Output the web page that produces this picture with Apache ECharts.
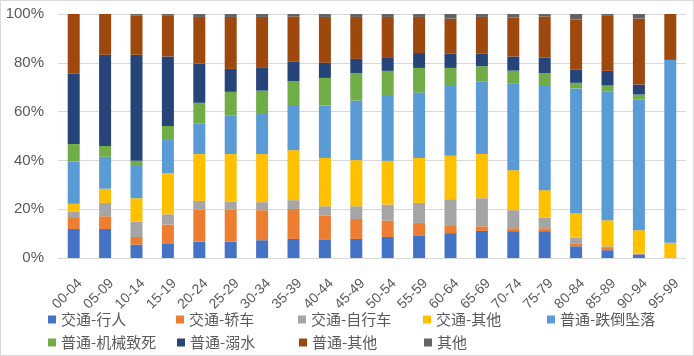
<!DOCTYPE html>
<html><head><meta charset="utf-8">
<script src="https://cdn.jsdelivr.net/npm/echarts@6/dist/echarts.min.js"></script>
<style>html,body{margin:0;padding:0;background:#fff}#c{width:692px;height:354px;border:1px solid #D9D9D9}</style>
</head><body><div id="c"></div>
<script>
const categories = ['00-04','05-09','10-14','15-19','20-24','25-29','30-34','35-39','40-44','45-49','50-54','55-59','60-64','65-69','70-74','75-79','80-84','85-89','90-94','95-99'];
const yTicks = ['0%','20%','40%','60%','80%','100%'];
const names = ['交通-行人','交通-轿车','交通-自行车','交通-其他','普通-跌倒坠落','普通-机械致死','普通-溺水','普通-其他','其他'];
const colors = ['#4472C4','#ED7D31','#A5A5A5','#FFC000','#5B9BD5','#70AD47','#264478','#9E480E','#636363'];
const pedestrian = [11.9,11.9,5.5,6.0,6.7,6.7,7.3,7.8,7.4,7.8,8.6,9.3,10.2,11.1,11.0,11.0,4.8,3.2,1.5,0];
const car        = [4.5,5.2,3.1,7.7,13.2,13.2,12.3,12.3,9.9,8.2,6.7,5.1,2.9,1.9,1.2,1.2,1.0,0.9,0.1,0];
const bicycle    = [2.5,5.5,6.3,4.2,3.5,3.3,3.3,3.6,3.9,5.2,6.6,8.2,11.0,11.5,7.4,4.4,2.6,0.7,0.2,0];
const trafficOther=[3.3,5.8,9.6,16.8,19.2,19.4,19.7,20.5,19.8,18.9,18.0,18.4,17.8,18.1,16.4,11.2,9.8,10.7,9.6,6.2];
const fall       = [17.3,13.1,13.2,13.7,12.6,15.9,16.4,18.1,21.5,24.4,26.5,26.8,28.6,29.7,35.4,42.7,51.3,52.7,53.7,75.0];
const machine    = [7.2,4.4,2.2,5.7,8.4,9.6,9.6,10.2,11.3,11.3,10.3,10.1,7.4,6.3,5.4,5.3,2.3,2.5,1.9,0];
const drowning   = [28.8,37.4,43.4,28.5,16.1,9.4,9.3,7.9,6.2,5.8,5.6,6.1,5.8,5.1,5.8,6.4,5.5,6.0,4.1,0];
const generalOther=[24.5,16.7,16.0,16.9,19.1,21.3,20.9,18.6,18.8,17.2,16.5,14.8,14.4,15.1,16.0,16.8,20.4,22.8,27.0,18.8];
const other      = [0,0,0.7,0.5,1.2,1.2,1.2,1.0,1.2,1.2,1.2,1.2,1.9,1.2,1.4,1.0,2.3,0.5,1.9,0];
const seriesData = [pedestrian,car,bicycle,trafficOther,fall,machine,drowning,generalOther,other];

const chart = echarts.init(document.getElementById('c'));
const latin = '"Liberation Sans", Arial, sans-serif';
const cjk = '"Noto Sans CJK SC", "Liberation Sans", sans-serif';
const legendLeft = [47, 175, 297, 422, 546, 47, 176, 298, 423];
const legends = names.map((n, i) => ({
  data: [n], left: legendLeft[i], top: i < 5 ? 311 : 334, padding: 0,
  itemWidth: 8, itemHeight: 8, icon: 'rect',
  textStyle: {color: '#595959', fontSize: 15, fontFamily: cjk}
}));
chart.setOption({
  animation: false,
  grid: {left: 57, right: 7, top: 13, bottom: 97},
  xAxis: {
    type: 'category', data: categories,
    axisLine: {lineStyle: {color: '#D9D9D9'}},
    axisTick: {show: false},
    axisLabel: {rotate: 45, interval: 0, color: '#595959', fontSize: 14, fontFamily: latin,
      margin: 17, verticalAlign: 'top', padding: [2, 0, 0, 0]}
  },
  yAxis: {
    type: 'value', min: 0, max: 100, interval: 20,
    axisLabel: {color: '#595959', fontSize: 15, fontFamily: latin, margin: 14,
      formatter: v => yTicks[Math.round(v / 20)]},
    splitLine: {lineStyle: {color: '#D9D9D9'}},
    axisLine: {show: false}, axisTick: {show: false}
  },
  legend: legends,
  series: names.map((n, i) => ({
    name: n, type: 'bar', stack: 'total', barWidth: 12,
    itemStyle: {color: colors[i]},
    data: seriesData[i]
  }))
});
</script></body></html>
